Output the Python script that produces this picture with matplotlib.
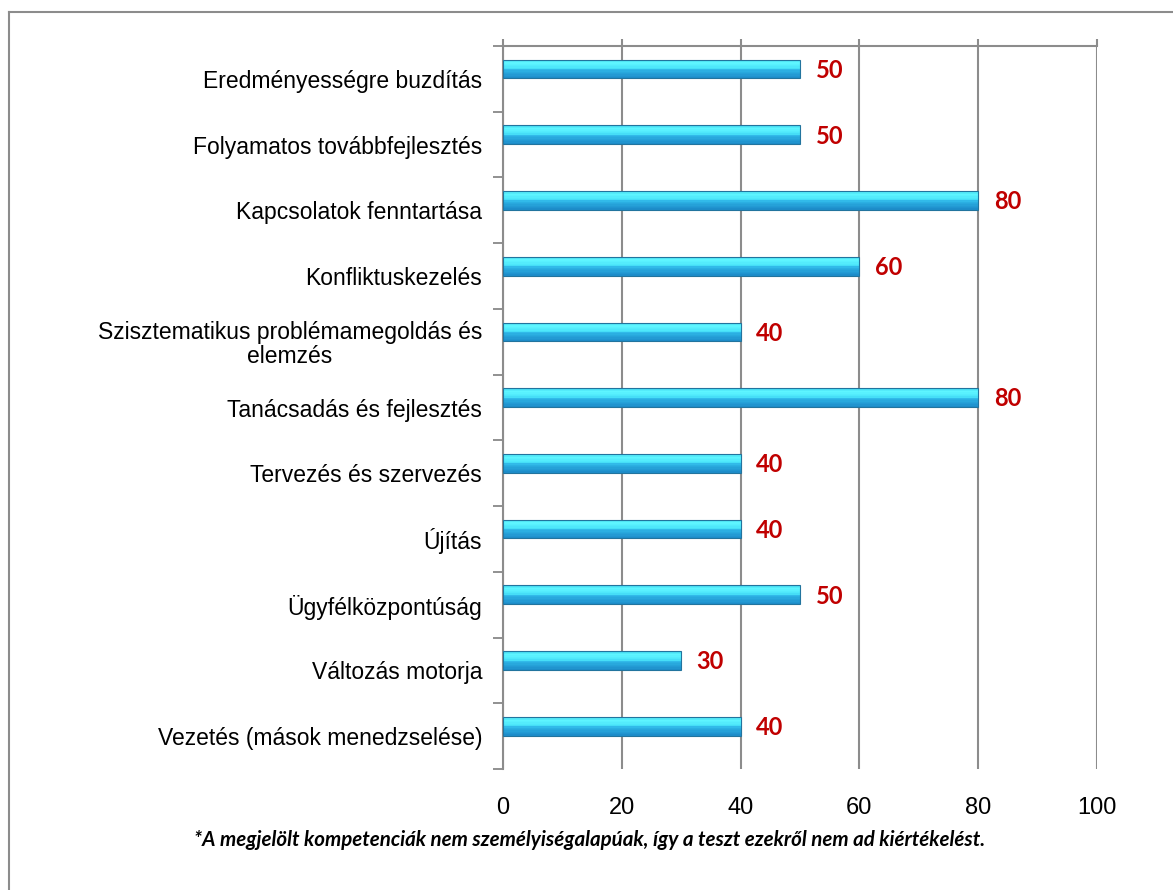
import matplotlib
matplotlib.use("Agg")
import matplotlib.pyplot as plt
import numpy as np
from matplotlib.colors import LinearSegmentedColormap
from matplotlib.lines import Line2D

categories = [
    "Eredményességre buzdítás",
    "Folyamatos továbbfejlesztés",
    "Kapcsolatok fenntartása",
    "Konfliktuskezelés",
    "Szisztematikus problémamegoldás és\nelemzés",
    "Tanácsadás és fejlesztés",
    "Tervezés és szervezés",
    "Újítás",
    "Ügyfélközpontúság",
    "Változás motorja",
    "Vezetés (mások menedzselése)",
]
values = [50, 50, 80, 60, 40, 80, 40, 40, 50, 30, 40]
xticks = [0, 20, 40, 60, 80, 100]
footnote = "*A megjelölt kompetenciák nem személyiségalapúak, így a teszt ezekről nem ad kiértékelést."

fig = plt.figure(figsize=(11.73, 8.9), dpi=100)
ax = fig.add_axes([503/1173, 1-769/890, (1097-503)/1173, (769-46)/890])

grad = LinearSegmentedColormap.from_list(
    "bar", [(0.0, "#45dcf2"), (0.18, "#5ff5ff"), (0.45, "#4ae4fa"),
            (0.55, "#2db4e6"), (1.0, "#1c8ac8")])

ypos = np.arange(len(categories))
bh = 0.285
offset = -0.15
nslices = 14
for y, v in zip(ypos, values):
    top = y + offset - bh/2
    for k in range(nslices):
        c = grad((k + 0.5) / nslices)
        ax.barh(top + (k + 0.5) * bh / nslices, v, height=bh / nslices,
                left=0, color=c, edgecolor="none", zorder=3)
    ax.barh(y + offset, v, height=bh, left=0, facecolor="none",
            edgecolor="#22749e", linewidth=0.8, zorder=4)
    ax.text(v + 2.6, y + offset + 0.02, str(v), color="#c00000", fontsize=17,
            fontweight="bold", family="Lato", va="center", ha="left", zorder=5)

ax.set_xlim(0, 100)
ax.set_ylim(len(categories) - 0.5, -0.5)
ax.set_xticks(xticks)
ax.set_xticklabels([str(t) for t in xticks], fontsize=17, family="Liberation Sans")
ax.set_yticks(ypos)
ax.set_yticklabels(categories, fontsize=16.5, family="Liberation Sans",
                   multialignment="center", linespacing=1.05)
ax.set_yticks(np.arange(len(categories) + 1) - 0.5, minor=True)
ax.tick_params(axis="y", which="major", length=0, pad=15)
ax.tick_params(axis="y", which="minor", length=7, color="#888888", width=1.3, direction="out")
ax.tick_params(axis="x", which="major", length=0, pad=20)
ax.grid(axis="x", color="#8c8c8c", linewidth=1.5, zorder=0)
ax.vlines(xticks, -0.5, -0.6, color="#8c8c8c", linewidth=1.5, clip_on=False, zorder=0)
ax.set_axisbelow(True)
for s in ["bottom", "right"]:
    ax.spines[s].set_visible(False)
for s in ["left", "top"]:
    ax.spines[s].set_color("#8c8c8c")
    ax.spines[s].set_linewidth(1.5)

fig.text(590/1173, 1-840/890, footnote, ha="center", va="center", fontsize=14.8,
         family="Lato", fontweight="bold", fontstyle="italic")

fig.add_artist(Line2D([9/1173, 9/1173], [0, 1-12/890], color="#8c8c8c", linewidth=1.5,
                      transform=fig.transFigure))
fig.add_artist(Line2D([9/1173, 1], [1-12/890, 1-12/890], color="#8c8c8c", linewidth=1.5,
                      transform=fig.transFigure))

fig.savefig("out.png", dpi=100)
